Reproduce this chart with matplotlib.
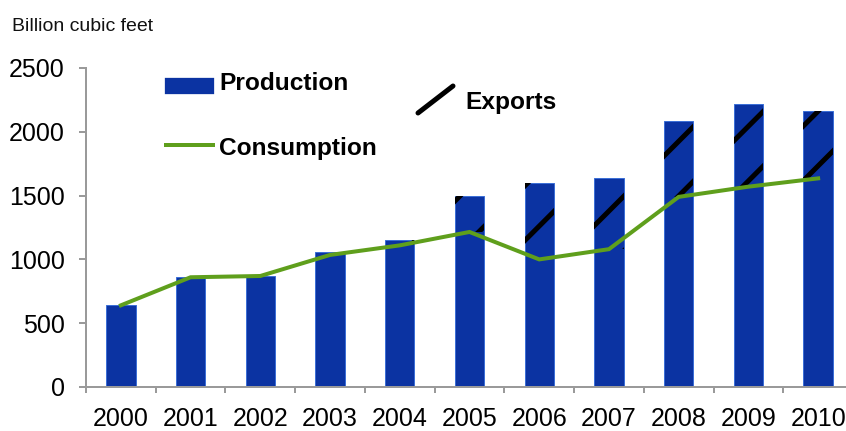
import matplotlib
matplotlib.use("Agg")
import matplotlib.pyplot as plt
from matplotlib.patches import Rectangle
from matplotlib.lines import Line2D
import numpy as np

# Natural gas balance, billion cubic feet
years = ["2000", "2001", "2002", "2003", "2004", "2005",
         "2006", "2007", "2008", "2009", "2010"]
production = [645, 865, 870, 1060, 1150, 1500, 1600, 1640, 2085, 2215, 2165]
consumption = [640, 860, 870, 1035, 1110, 1215, 1000, 1080, 1490, 1570, 1635]
y_ticks = [0, 500, 1000, 1500, 2000, 2500]

W, H, DPI = 846, 431, 164
PT = 72.0 / DPI  # points per pixel


def fx(x):
    return x / W


def fy(y):
    return 1.0 - y / H


plt.rcParams["font.family"] = ["Liberation Sans", "DejaVu Sans"]
plt.rcParams["hatch.linewidth"] = 5 * PT
plt.rcParams["hatch.color"] = "black"

BLUE = "#0b33a2"
GREEN = "#5f9f1c"
AXIS = "#9a9a9a"

fig = plt.figure(figsize=(W / DPI, H / DPI), dpi=DPI)
ax = fig.add_axes([fx(86), fy(387), (853 - 86) / W, (387 - 68) / H])

x = np.arange(len(years))
prod = np.array(production, dtype=float)
cons = np.array(consumption, dtype=float)

ax.bar(x, prod, width=0.42, color=BLUE, edgecolor="#3c6fd6",
       linewidth=1 * PT, zorder=2)

# Exports: the part of production above domestic consumption
export_part = np.clip(prod - cons, 0, None)
ax.bar(x, export_part, bottom=cons, width=0.42, facecolor="none",
       edgecolor="black", linewidth=0, hatch="/", zorder=3)

ax.plot(x, cons, color=GREEN, linewidth=4 * PT, zorder=4,
        solid_joinstyle="miter")

ax.set_xlim(-0.5, len(years) - 0.5)
ax.set_ylim(0, 2500)
ax.set_yticks(y_ticks)
ax.set_yticklabels([str(v) for v in y_ticks])
ax.set_xticks(x)
ax.set_xticklabels(years)
ax.set_xticks(np.arange(len(years) + 1) - 0.5, minor=True)

for s in ("top", "right"):
    ax.spines[s].set_visible(False)
for s in ("left", "bottom"):
    ax.spines[s].set_color(AXIS)
    ax.spines[s].set_linewidth(2 * PT)

ax.tick_params(axis="y", which="major", direction="out", length=7 * PT,
               width=2 * PT, color=AXIS, pad=14 * PT, labelsize=25 * PT,
               labelcolor="black")
ax.tick_params(axis="x", which="major", length=0, pad=20 * PT,
               labelsize=25 * PT, labelcolor="black")
ax.tick_params(axis="x", which="minor", direction="out", length=6 * PT,
               width=2 * PT, color=AXIS)

fig.text(fx(12), fy(31), "Billion cubic feet", fontsize=19.5 * PT,
         va="baseline", ha="left", color="#111111")

# Legend keys
fig.add_artist(Rectangle((fx(166), fy(93)), 47 / W, 14 / H, color=BLUE,
                         transform=fig.transFigure))
fig.text(fx(219), fy(84), "Production", fontsize=24.5 * PT,
         fontweight="bold", va="center", ha="left")
fig.add_artist(Line2D([fx(166), fx(213)], [fy(145), fy(145)], color=GREEN,
                      linewidth=4 * PT, transform=fig.transFigure))
fig.text(fx(219), fy(148), "Consumption", fontsize=24.5 * PT,
         fontweight="bold", va="center", ha="left")
fig.add_artist(Line2D([fx(418), fx(453)], [fy(113), fy(86)], color="black",
                      linewidth=5 * PT, solid_capstyle="round",
                      transform=fig.transFigure))
fig.text(fx(465), fy(103), "Exports", fontsize=24.5 * PT,
         fontweight="bold", va="center", ha="left")

fig.savefig("out.png", dpi=DPI)
